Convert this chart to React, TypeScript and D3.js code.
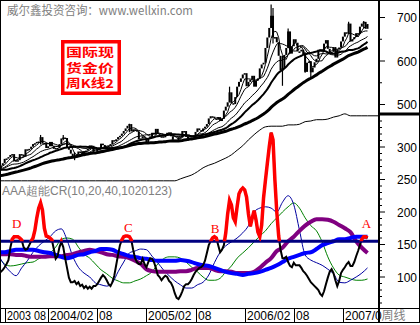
import React from "react";
import * as d3 from "d3";

// weekly gold closes, 2003-08-08 .. 2007-05-04 (one per bar)
const closes = [
  354, 360, 365, 375, 376, 379, 384, 386, 370, 372, 372, 386, 385, 380, 397, 397, 398, 403, 409, 411, 414,
  415, 425, 410, 412, 400, 404, 414, 404, 398, 400, 400, 409, 422, 424, 423, 400, 396, 387, 380, 378, 385, 392,
  392, 385, 393, 394, 398, 406, 405, 391, 391, 398, 400, 410, 407, 400, 404, 405, 409, 418, 416, 420, 425, 428,
  433, 439, 445, 451, 455, 438, 443, 441, 438,
  420, 422, 427, 424, 413, 421, 426, 435, 431, 444, 432, 427, 427, 426, 428, 435, 436, 427, 419, 419, 417,
  425, 424, 439, 439, 426, 423, 422, 424, 429, 437, 445, 441, 438, 445, 449, 455, 468, 473, 472, 468, 465, 471,
  462, 467, 486, 495, 505, 528, 503, 501, 517,
  541, 552, 560, 569, 572, 542, 552, 557, 566, 541, 555, 560, 583, 592, 596, 630, 654, 676, 704, 654, 655,
  643, 612, 578, 584, 614, 630, 668, 617, 634, 650, 642, 622, 622, 626, 616, 575, 596, 599, 574, 585, 597, 605,
  626, 627, 622, 640, 648, 628, 620, 621, 632,
  608, 627, 631, 645, 656, 666, 664, 686, 645, 650, 655, 664, 662, 679, 686, 690, 674, 685,
];

// the weeks before the window, only so the moving averages start at the left edge
const leadCloses = [
  322, 318, 316, 322, 320, 305, 309, 311, 313, 311, 312, 318, 320, 321, 323, 322, 315, 313, 317, 320,
  320, 319, 317, 318, 324, 332, 345, 347, 352, 355, 356, 367, 368, 374, 352, 351, 350, 351, 337, 327,
  334, 325, 325, 329, 333, 343, 350, 355, 370, 362, 365, 356, 355, 346, 350, 347, 345, 363, 353,
];

// long shadows that stand out: [bar, high, low]
const wicks = [
  [22, 430, 408], [34, 430, 418], [40, 390, 372], [69, 456, 436], [122, 541, 505],
  [144, 730, 676], [145, 722, 640], [150, 612, 543], [153, 675, 630], [162, 620, 573],
  [165, 600, 560], [185, 690, 662], [193, 692, 676],
];

const maPeriods = [5, 10, 20, 30, 60];
const maWidths = [1, 1, 1, 2, 3];

// CR, one value per bar
const crValues = [
  106, 108, 111, 115, 120, 126, 145, 158, 162, 162, 162, 160, 157, 146, 142, 143, 149, 155, 160, 172,
  191, 206, 214, 203, 175, 163, 162, 160, 157, 143, 128, 132, 146, 154, 146, 129, 114, 99, 92, 92,
  94, 89, 92, 86, 88, 83, 86, 82, 85, 82, 86, 86, 89, 94, 99, 103, 100, 95, 89, 86,
  92, 102, 118, 134, 149, 157, 162, 163, 163, 162, 157, 142, 129, 123, 120, 120, 128, 120, 115, 123,
  129, 128, 123, 114, 103, 100, 95, 99, 102, 100, 94, 91, 85, 75, 68, 66, 71, 78, 86, 89,
  89, 92, 97, 103, 108, 111, 114, 115, 118, 125, 137, 149, 155, 160, 162, 160, 149, 138, 142, 149,
  168, 197, 218, 211, 191, 185, 208, 228, 234, 237, 234, 223, 197, 178, 191, 202, 188, 169, 162, 180,
  222, 249, 275, 300, 322, 311, 249, 200, 163, 142, 129, 129, 131, 123, 117, 115, 122, 118, 118, 118,
  114, 109, 106, 102, 97, 92, 89, 86, 83, 80, 74, 71, 78, 89, 99, 108, 112, 106, 95, 86,
  94, 106, 111, 115, 120, 123, 117, 117, 123, 132, 140, 149, 158, 162, 162, 160,
];

// the other CR lines, read every 3 bars
const crStep = 3;
const crThinBlue = [
  132, 118, 108, 102, 114, 125, 138, 148, 155, 162, 171, 174, 157, 132, 115, 106, 100, 91, 88, 86,
  91, 108, 123, 137, 140, 143, 142, 132, 122, 111, 102, 94, 88, 83, 83, 88, 92, 103, 122, 138,
  148, 154, 160, 168, 179, 200, 206, 208, 206, 200, 215, 225, 211, 172, 134, 126, 122, 118, 112, 105,
  92, 91, 95, 100, 106, 114,
];
const crGreen = [
  129, 120, 117, 118, 120, 122, 123, 128, 132, 137, 146, 158, 160, 158, 146, 135, 129, 120, 111, 105,
  98, 94, 91, 91, 94, 97, 102, 108, 120, 128, 131, 131, 129, 123, 115, 108, 100, 95, 95, 98,
  108, 117, 129, 137, 145, 154, 163, 171, 182, 191, 200, 208, 214, 206, 191, 179, 171, 154, 131, 114,
  103, 100, 97, 95, 95, 97,
];
const crBlue = [
  138, 138, 140, 142, 142, 142, 142, 140, 138, 137, 134, 131, 129, 131, 134, 135, 138, 140, 143, 143,
  142, 138, 135, 132, 131, 129, 128, 126, 125, 125, 125, 125, 126, 125, 123, 120, 118, 117, 114, 111,
  108, 106, 105, 103, 105, 106, 108, 111, 114, 118, 123, 128, 131, 134, 137, 138, 143, 149, 152, 155,
  158, 158, 160, 162, 162, 162,
];
const crPurple = [
  135, 135, 135, 134, 134, 132, 131, 131, 131, 132, 132, 132, 134, 135, 138, 140, 142, 140, 138, 135,
  134, 132, 131, 129, 125, 120, 112, 109, 108, 108, 108, 108, 109, 109, 111, 114, 114, 114, 111, 109,
  109, 108, 106, 106, 106, 108, 114, 122, 129, 140, 145, 155, 162, 171, 179, 185, 189, 189, 188, 185,
  180, 175, 169, 155, 145, 137,
];
const crSum = [
  248, 248, 248, 248, 248, 248, 248, 248, 248, 248, 248, 248, 248, 248, 248, 248, 248, 248, 248, 248,
  248, 248, 248, 248, 248, 248, 248, 248, 248, 248, 248, 248, 251, 254, 257, 262, 268, 272, 275, 279,
  283, 288, 295, 302, 311, 319, 326, 331, 332, 332, 332, 334, 334, 335, 339, 340, 342, 342, 343, 346,
  348, 351, 348, 348, 348, 348,
];
const crLevel = 155;

const priceTicks = [500, 600, 700];
const priceMinor = [550, 650];
const crTicks = [100, 150, 200, 250, 300];
const crMinor = [60, 70, 80, 90, 110, 120, 130, 140, 160, 170, 180, 190, 210, 220, 230, 240, 260, 270, 280, 290, 310, 320, 330, 340];

const dateTicks = [
  { i: 3, label: "2003 08" }, { i: 26, label: "2004/02" }, { i: 52, label: "08" },
  { i: 78, label: "2005/02" }, { i: 104, label: "08" }, { i: 130, label: "2006/02" },
  { i: 156, label: "08" }, { i: 182, label: "2007/0" },
];

const marks = [
  { label: "D", i: 9.3, v: 175 }, { label: "C", i: 68.5, v: 169 },
  { label: "B", i: 114.3, v: 168 }, { label: "A", i: 194.4, v: 175 },
];

const title = "威尔鑫投资咨询：www.wellxin.com";
const crTitle = "AAA超能CR(10,20,40,1020123)";
const boxLines = ["国际现", "货金价", "周K线2"];

const RIGHT = 379;

export default function App() {
  const x = d3.scaleLinear().domain([0, closes.length - 1]).range([-1, 367.5]);
  const yP = d3.scaleLinear().domain([500, 700]).range([104.5, 17.5]);
  const yC = d3.scaleLinear().domain([100, 300]).range([277, 147]);

  const all = leadCloses.concat(closes);
  const off = leadCloses.length;
  const ma = (n: number) => closes.map((_, i) => d3.mean(all.slice(off + i - n + 1, off + i + 1)) as number);

  const priceLine = d3.line<number>().x((_, i) => x(i)).y((d) => yP(d));
  const crLine = d3.line<number>().x((_, i) => x(i)).y((d) => yC(d));
  const smooth = d3.line<number>().x((_, i) => x(i * crStep)).y((d) => yC(d)).curve(d3.curveMonotoneX);

  const sans = "'Liberation Sans', Arial, sans-serif";
  const cjk = "'Noto Sans CJK SC', sans-serif";

  return (
    <svg width={420} height={325} style={{ position: "absolute", left: 0, top: 0, background: "#fff" }} fontFamily={sans}>
      <defs>
        <clipPath id="plot"><rect x={1} y={1} width={RIGHT - 1} height={307} /></clipPath>
        <clipPath id="hot"><rect x={1} y={1} width={RIGHT - 1} height={yC(crLevel) - 1} /></clipPath>
      </defs>
      <rect width={420} height={325} fill="#fff" />

      <text x={7} y={14.5} fontFamily={cjk} fontSize={12} fill="#808080" textLength={186} lengthAdjust="spacingAndGlyphs">{title}</text>

      <g clipPath="url(#plot)">
        {closes.map((c, i) => {
          const o = i === 0 ? leadCloses[leadCloses.length - 1] : closes[i - 1];
          const top = yP(Math.max(o, c));
          const h = Math.max(1.5, yP(Math.min(o, c)) - top);
          return <rect key={i} x={x(i) - 1} y={top} width={2} height={h} fill="#000" />;
        })}
        {wicks.map(([i, hi, lo]) => (
          <line key={"w" + i} x1={x(i)} x2={x(i)} y1={yP(hi)} y2={yP(lo)} stroke="#000" strokeWidth={1.2} />
        ))}
        {maPeriods.map((n, k) => (
          <path key={"ma" + n} d={priceLine(ma(n)) as string} fill="none" stroke="#000" strokeWidth={maWidths[k]} />
        ))}

        <path d={(smooth(crSum) as string) + "L" + RIGHT + "," + yC(crSum[crSum.length - 1])} fill="none" stroke="#000" strokeWidth={1} />

        <path d={smooth(crGreen) as string} fill="none" stroke="#008000" strokeWidth={1} />
        <path d={smooth(crThinBlue) as string} fill="none" stroke="#0000a0" strokeWidth={1} />
        <path d={smooth(crPurple) as string} fill="none" stroke="#800080" strokeWidth={4} />
        <path d={smooth(crBlue) as string} fill="none" stroke="#0000ff" strokeWidth={4} />
        <path d={crLine(crValues) as string} fill="none" stroke="#000" strokeWidth={2} />
        <line x1={0} x2={RIGHT} y1={yC(crLevel)} y2={yC(crLevel)} stroke="#000080" strokeWidth={3} />
        <path d={crLine(crValues) as string} fill="none" stroke="#ff0000" strokeWidth={3.5} clipPath="url(#hot)" />

        {marks.map((m) => (
          <text key={m.label} x={x(m.i)} y={yC(m.v)} textAnchor="middle" fontFamily="'Liberation Serif', serif" fontSize={13} fill="#ff0000">{m.label}</text>
        ))}
      </g>

      <text x={2} y={195} fontSize={12} fill="#808080" fontFamily={sans} textLength={170} lengthAdjust="spacingAndGlyphs">{crTitle}</text>

      <rect x={61} y={40} width={60} height={55} fill="#ff0000" />
      <rect x={64.5} y={43.5} width={53} height={48} fill="#fff" />
      {boxLines.map((t, k) => (
        <text key={t} x={66} y={57 + k * 15.5} fontFamily={cjk} fontWeight={700} fontSize={12} fill="#ff0000" textLength={48} lengthAdjust="spacingAndGlyphs">{t}</text>
      ))}

      {/* frame */}
      <line x1={0} x2={420} y1={0.5} y2={0.5} stroke="#000" />
      <line x1={0.5} x2={0.5} y1={0} y2={323} stroke="#000" />
      <line x1={419.5} x2={419.5} y1={0} y2={323} stroke="#000" />
      <line x1={RIGHT} x2={RIGHT} y1={0} y2={323} stroke="#000" strokeWidth={2} />
      <line x1={0} x2={420} y1={308.5} y2={308.5} stroke="#000" />
      <line x1={0} x2={420} y1={322.5} y2={322.5} stroke="#000" />
      <line x1={RIGHT} x2={420} y1={114} y2={114} stroke="#000" strokeWidth={3} />

      {/* right axis */}
      {priceTicks.map((t) => (
        <g key={"p" + t}>
          <line x1={RIGHT} x2={RIGHT + 6} y1={yP(t)} y2={yP(t)} stroke="#000" />
          <text x={417} y={yP(t) + 4.5} textAnchor="end" fontSize={12}>{t}</text>
        </g>
      ))}
      {priceMinor.map((t) => (
        <line key={"pm" + t} x1={RIGHT} x2={RIGHT + 3} y1={yP(t)} y2={yP(t)} stroke="#000" />
      ))}
      {crTicks.map((t) => (
        <g key={"c" + t}>
          <line x1={RIGHT} x2={RIGHT + 6} y1={yC(t)} y2={yC(t)} stroke="#000" />
          <text x={417} y={yC(t) + 4.5} textAnchor="end" fontSize={12}>{t}</text>
        </g>
      ))}
      {crMinor.map((t) => (
        <line key={"cm" + t} x1={RIGHT} x2={RIGHT + 3} y1={yC(t)} y2={yC(t)} stroke="#000" />
      ))}

      {/* date row */}
      {dateTicks.map((d) => (
        <g key={d.label + d.i}>
          <line x1={Math.round(x(d.i)) + 0.5} x2={Math.round(x(d.i)) + 0.5} y1={308} y2={323} stroke="#000" />
          <text x={Math.round(x(d.i)) + 2} y={320} fontSize={12} textLength={d.i === 3 ? 39 : undefined} lengthAdjust="spacingAndGlyphs">{d.label}</text>
        </g>
      ))}
      <text x={381.5} y={320} fontFamily={cjk} fontSize={12} fill="#808080">周线</text>
    </svg>
  );
}
